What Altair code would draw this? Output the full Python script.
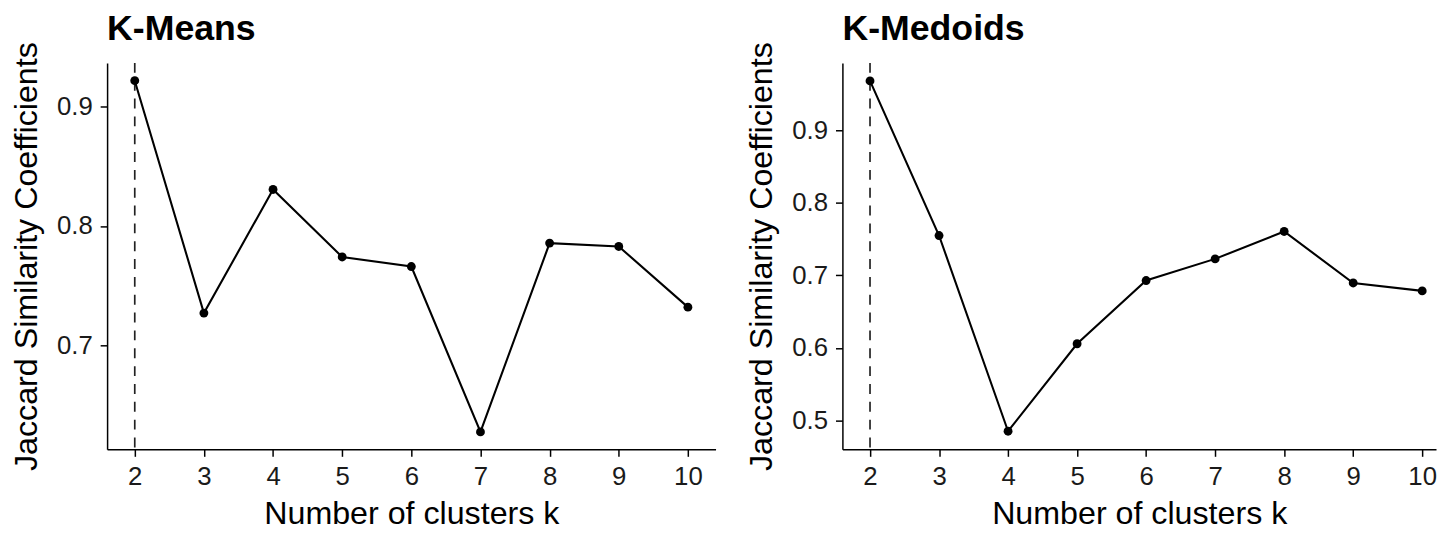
import altair as alt
import pandas as pd

# ---- data ----
k_values = [2, 3, 4, 5, 6, 7, 8, 9, 10]
kmeans_jaccard = [0.9216, 0.727, 0.8305, 0.774, 0.766, 0.6275, 0.7856, 0.7828, 0.732]
kmedoids_jaccard = [0.968, 0.755, 0.4854, 0.6059, 0.693, 0.7228, 0.7606, 0.6896, 0.6787]
optimal_k = [2]
kmeans_yticks = [0.7, 0.8, 0.9]
kmedoids_yticks = [0.5, 0.6, 0.7, 0.8, 0.9]

FONT = "Liberation Sans"


def panel(title, values, ydomain, yticks, xdomain, width):
    df = pd.DataFrame({"k": k_values, "jaccard": values})
    opt = pd.DataFrame({"k": optimal_k})
    x = alt.X(
        "k:Q",
        scale=alt.Scale(domain=xdomain, nice=False, zero=False),
        axis=alt.Axis(values=k_values, title="Number of clusters k", format="d"),
    )
    y = alt.Y(
        "jaccard:Q",
        scale=alt.Scale(domain=ydomain, nice=False, zero=False),
        axis=alt.Axis(values=yticks, title="Jaccard Similarity Coefficients", format=".1f"),
    )
    rule = alt.Chart(opt).mark_rule(
        color="#222222", strokeDash=[10, 8], strokeWidth=1.7
    ).encode(x=x)
    line = alt.Chart(df).mark_line(color="black", strokeWidth=2.1).encode(x=x, y=y)
    pts = alt.Chart(df).mark_circle(color="black", size=80, opacity=1).encode(x=x, y=y)
    return alt.layer(rule, line, pts).properties(
        width=width,
        height=390,
        title=alt.TitleParams(
            title,
            anchor="start",
            frame="group",
            fontSize=36,
            fontWeight="bold",
            font=FONT,
            color="black",
            baseline="alphabetic",
            offset=-34,
        ),
    )


left = panel("K-Means", kmeans_jaccard, [0.6129, 0.9365], kmeans_yticks, [1.6, 10.4], 614)
right = panel("K-Medoids", kmedoids_jaccard, [0.4604, 0.9928], kmedoids_yticks, [1.6, 10.2], 599)

chart = (
    alt.hconcat(left, right, spacing=30)
    .properties(padding={"left": 2, "top": 0, "right": 0, "bottom": 0}, background="white")
    .configure_view(stroke=None)
    .configure_axis(
        grid=False,
        domainColor="black",
        domainWidth=1.5,
        tickColor="black",
        tickWidth=1.5,
        tickSize=7,
        labelFont=FONT,
        labelFontSize=26,
        labelColor="#1a1a1a",
        titleFont=FONT,
        titleFontSize=32.5,
        titleFontWeight="normal",
        titleColor="black",
    )
    .configure_axisX(labelPadding=7, titlePadding=9)
    .configure_axisY(labelPadding=8, titlePadding=13)
)

chart.save("out.html", embed_options={"renderer": "svg", "actions": False})
